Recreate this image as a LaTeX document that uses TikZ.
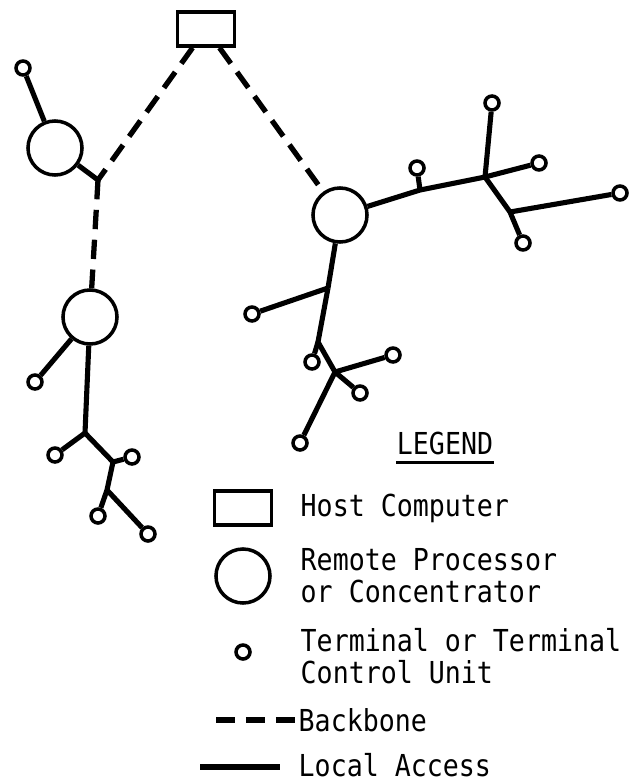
\documentclass[tikz,border=0pt]{standalone}
\usepackage{fontspec}
\newfontfamily\legendfont{DejaVu Sans Mono}[FakeStretch=0.88]
\usepackage{tikz}
\usetikzlibrary{positioning}

\begin{document}
\begin{tikzpicture}[
        x=0.01cm, y=-0.01cm,
        host/.style={
            rectangle,
            draw,
            line width=1pt,
            minimum width=0.57cm,
            minimum height=0.34cm,
            inner sep=0pt
        },
        conc/.style={
            circle,
            draw,
            line width=1pt,
            minimum size=0.54cm,
            inner sep=0pt
        },
        term/.style={
            circle,
            draw,
            line width=1pt,
            minimum size=0.14cm,
            inner sep=0pt
        },
        label/.style={
            anchor=west,
            align=left,
            inner sep=0pt,
            font=\legendfont\fontsize{8.6}{9.1}\selectfont
        },
        local/.style={draw, line width=1.45pt},
        backbone/.style={draw, line width=1.5pt, dash pattern=on 5.5pt off 3pt}
    ]
        \useasboundingbox (0,0) rectangle (629,782);

        % Nodes
        \node [host] (host) at (206,29) {};

        \node [conc] (c1) at (55,148) {};
        \node [term] (t1) at (23,68) {};
        \coordinate (j1) at (98,180);

        \node [conc] (c2) at (90,317) {};
        \node [term] (t2) at (35,382) {};
        \coordinate (j2) at (85,433);
        \node [term] (t3) at (55,455) {};
        \coordinate (j3) at (113,462);
        \node [term] (t4) at (132,457) {};
        \coordinate (j4) at (107,490);
        \node [term] (t5) at (98,516) {};
        \node [term] (t6) at (148,534) {};

        \node [conc] (c3) at (340,215) {};
        \coordinate (j6) at (420,190);
        \node [term] (t7) at (417,168) {};
        \coordinate (j5) at (485,177);
        \node [term] (t8) at (492,103) {};
        \node [term] (t9) at (539,163) {};
        \coordinate (j7) at (510,212);
        \node [term] (t10) at (523,243) {};
        \node [term] (t11) at (620,193) {};
        \coordinate (j8) at (328,288);
        \node [term] (t12) at (252,314) {};
        \coordinate (j9) at (318,342);
        \node [term] (t13) at (312,362) {};
        \coordinate (j10) at (335,372);
        \node [term] (t14) at (393,355) {};
        \node [term] (t15) at (360,393) {};
        \node [term] (t16) at (300,443) {};

        % Legend
        \node [label, anchor=center] (title) at (445,443) {LEGEND};
        \node [host] (khost) at (243,508) {};
        \node [label] (lhost) at (300,508) {Host Computer};
        \node [conc] (kconc) at (243,576) {};
        \node [label] (lconc) at (300,576) {Remote Processor\\or Concentrator};
        \node [term] (kterm) at (243,652) {};
        \node [label] (lterm) at (300,656) {Terminal or Terminal\\Control Unit};
        \coordinate (kback) at (216,720);
        \node [label] (lback) at (298,720) {Backbone};
        \coordinate (klocal) at (200,767);
        \coordinate (klocalend) at (280,767);
        \node [label] (llocal) at (298,765) {Local Access};

        % Paths
        \path [backbone] (host) -- (j1);
        \path [backbone] (j1) -- (c2);
        \path [backbone] (host) -- (c3);

        \path [local] (c1) -- (t1);
        \path [local] (c1) -- (j1);
        \path [local] (c2) -- (t2);
        \path [local] (c2) -- (j2);
        \path [local] (j2) -- (t3);
        \path [local] (j2) -- (j3) -- (t4);
        \path [local] (j3) -- (j4) -- (t5);
        \path [local] (j4) -- (t6);

        \path [local] (c3) -- (j6) -- (j5);
        \path [local] (j6) -- (t7);
        \path [local] (j5) -- (t8);
        \path [local] (j5) -- (t9);
        \path [local] (j5) -- (j7) -- (t10);
        \path [local] (j7) -- (t11);
        \path [local] (c3) -- (j8);
        \path [local] (j8) -- (t12);
        \path [local] (j8) -- (j9) -- (j10);
        \path [local] (j9) -- (t13);
        \path [local] (j10) -- (t14);
        \path [local] (j10) -- (t15);
        \path [local] (j10) -- (t16);

        \draw [line width=0.8pt] ([yshift=-0.07cm]title.south west) -- ([yshift=-0.07cm]title.south east);
        \path [backbone] (kback) -- (lback.west);
        \path [local] (klocal) -- (klocalend);
    \end{tikzpicture}
\end{document}
